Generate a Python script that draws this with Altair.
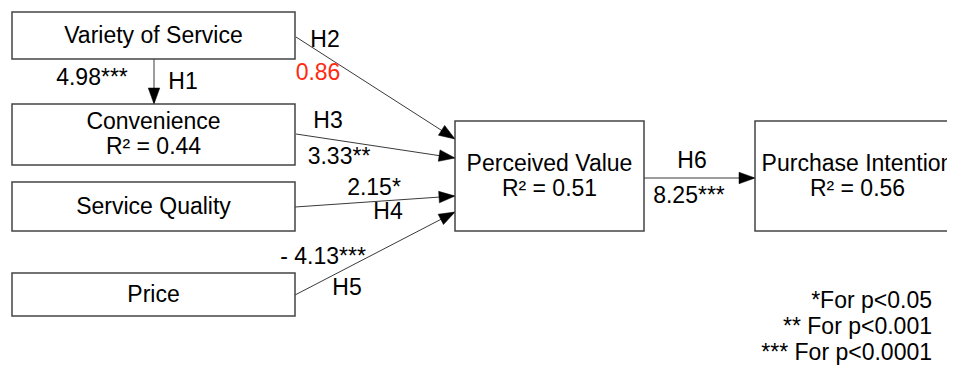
import math
import altair as alt
import pandas as pd

# ---- content ----
node_names = ["Variety of Service", "Convenience", "Service Quality", "Price",
              "Perceived Value", "Purchase Intention"]
node_r2 = ["", "R\u00b2 = 0.44", "", "", "R\u00b2 = 0.51", "R\u00b2 = 0.56"]

hypotheses = ["H1", "H2", "H3", "H4", "H5", "H6"]
coefficients = ["4.98***", "0.86", "3.33**", "2.15*", "- 4.13***", "8.25***"]
coef_significant = [True, False, True, True, True, True]

legend_lines = ["*For p<0.05", "** For p<0.001", "*** For p<0.0001"]

# ---- layout (page pixel coordinates) ----
box_x1 = [12, 12, 12, 12, 455, 755]
box_x2 = [295, 295, 295, 295, 644, 960]
box_y1 = [12, 104, 182, 273, 121, 121]
box_y2 = [59, 165, 231, 316, 231, 231]

path_x1 = [154, 296, 296, 295, 295, 644]
path_y1 = [59, 37, 134, 207, 295, 178]
path_x2 = [154, 455, 455, 455, 455, 755]
path_y2 = [104, 139, 158, 196, 212, 178]

hyp_x = [183, 325, 328, 388, 347, 692]
hyp_y = [82, 40, 121, 212, 288, 161]
coef_x = [92, 318, 339, 374, 323, 689]
coef_y = [78, 73, 157, 188, 257, 196]

legend_x = 932
legend_y = [301, 327, 353]

FONT = "Liberation Sans"
FS = 23
BOX = "#444444"
LINE = "#3a3a3a"

boxes = pd.DataFrame({"name": node_names, "r2": node_r2,
                      "x1": box_x1, "x2": box_x2, "y1": box_y1, "y2": box_y2})
boxes["cx"] = (boxes.x1 + boxes.x2.clip(upper=960)) / 2
boxes["cy"] = (boxes.y1 + boxes.y2) / 2
boxes["name_y"] = [boxes.cy[i] if node_r2[i] == "" else boxes.cy[i] - 12.5 for i in range(len(boxes))]
boxes["r2_y"] = boxes.cy + 12.5

paths = pd.DataFrame({"x1": path_x1, "y1": path_y1, "x2": path_x2, "y2": path_y2,
                      "hyp": hypotheses, "coef": coefficients, "sig": coef_significant,
                      "hx": hyp_x, "hy": hyp_y, "kx": coef_x, "ky": coef_y})
paths["angle"] = [math.degrees(math.atan2(r.y2 - r.y1, r.x2 - r.x1)) % 360 for r in paths.itertuples()]

legend = pd.DataFrame({"t": legend_lines, "x": legend_x, "y": legend_y})

# plot area spans page pixels 8..947 horizontally and 8..365 vertically
PX0, PX1, PY0, PY1 = 8, 947, 8, 365
xs = alt.Scale(domain=[PX0, PX1], range=[0, PX1 - PX0])
ys = alt.Scale(domain=[PY0, PY1], range=[0, PY1 - PY0])


def X(f):
    return alt.X(f, type="quantitative", scale=xs, axis=None)


def Y(f):
    return alt.Y(f, type="quantitative", scale=ys, axis=None)


rects = alt.Chart(boxes).mark_rect(fill="white", stroke=BOX, strokeWidth=1.5).encode(
    x=X("x1"), x2="x2", y=Y("y1"), y2="y2")

name_text = alt.Chart(boxes).mark_text(font=FONT, fontSize=FS, color="black",
                                       align="center", baseline="middle").encode(
    x=X("cx"), y=Y("name_y"), text="name")
r2_text = alt.Chart(boxes).transform_filter("datum.r2 != ''").mark_text(
    font=FONT, fontSize=FS, color="black", align="center", baseline="middle").encode(
    x=X("cx"), y=Y("r2_y"), text="r2")

lines = alt.Chart(paths).mark_rule(color=LINE, strokeWidth=1).encode(
    x=X("x1"), y=Y("y1"), x2="x2", y2="y2")

heads = alt.Chart(paths).mark_point(
    shape="M0,0L-1,-0.36L-1,0.36Z", filled=True, fill="black", stroke="black",
    strokeWidth=0.5, opacity=1, size=1024).encode(
    x=X("x2"), y=Y("y2"), angle=alt.Angle("angle", type="quantitative", scale=None))

hyp_text = alt.Chart(paths).mark_text(font=FONT, fontSize=FS, color="black",
                                      align="center", baseline="middle").encode(
    x=X("hx"), y=Y("hy"), text="hyp")
coef_text = alt.Chart(paths).mark_text(font=FONT, fontSize=FS,
                                       align="center", baseline="middle").encode(
    x=X("kx"), y=Y("ky"), text="coef",
    color=alt.Color("sig", type="nominal",
                    scale=alt.Scale(domain=[True, False], range=["black", "#ff2a10"]),
                    legend=None))

leg_text = alt.Chart(legend).mark_text(font=FONT, fontSize=FS, color="black",
                                       align="right", baseline="middle").encode(
    x=X("x"), y=Y("y"), text="t")

chart = alt.layer(lines, heads, rects, name_text, r2_text, hyp_text, coef_text, leg_text).properties(
    width=PX1 - PX0, height=PY1 - PY0, autosize=alt.AutoSizeParams(type="none"), padding=0,
    background="white"
).configure_view(stroke=None)

chart.save("out.html", embed_options={"renderer": "svg", "actions": False})
